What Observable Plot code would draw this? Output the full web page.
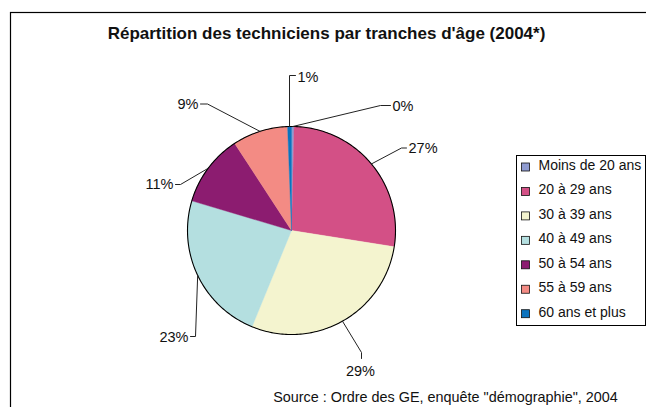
<!DOCTYPE html>
<html><head><meta charset="utf-8">
<script src="https://cdn.jsdelivr.net/npm/d3@7"></script>
<script src="https://cdn.jsdelivr.net/npm/@observablehq/plot@0.6"></script>
<style>body{margin:0;background:#fff} svg{display:block}</style>
</head><body><div id="chart"></div>
<script>
// ---- data ----
const categories = ["Moins de 20 ans","20 à 29 ans","30 à 39 ans","40 à 49 ans","50 à 54 ans","55 à 59 ans","60 ans et plus"];
const shares = [0.4, 27.1, 28.7, 23.4, 11.2, 8.6, 0.6];
const colors = ["#8f9bd0","#d35086","#f4f4cf","#b4dfe0","#8c1c70","#f38b84","#0b73be"];
const title = "Répartition des techniciens par tranches d'âge (2004*)";
const source = "Source : Ordre des GE, enquête \"démographie\", 2004";

// ---- layout (pixels) ----
const W = 646, H = 407, CX = 291, CY = 230, R = 104;
const ux = px => (px - CX) / R, uy = py => (CY - py) / R;
// label placement per slice: elbow, tick end, text anchor point, text alignment
const labelLayout = [
  {elbow:[380,105],   end:[390,105],   text:[392,106],   anchor:"start"},
  {elbow:[401,147.5], end:[406,147.5], text:[408,148],   anchor:"start"},
  {elbow:[361,352],   end:[361,358],   text:[360,371],   anchor:"middle"},
  {elbow:[195,336],   end:[190,336],   text:[188,337],   anchor:"end"},
  {elbow:[180,184],   end:[175,184],   text:[173,184],   anchor:"end"},
  {elbow:[207,103.5], end:[200,103.5], text:[198,104],   anchor:"end"},
  {elbow:[289,75],    end:[295,75],    text:[297,77],    anchor:"start"}
];

const total = d3.sum(shares);
const arcs = d3.pie().sort(null).value(d => d.value)(categories.map((c, i) => ({cat: c, value: shares[i]})));

// slice polygons in pie units (radius 1)
const slicePts = arcs.flatMap(a => {
  const n = Math.max(2, Math.ceil((a.endAngle - a.startAngle) / 0.01));
  const pts = [{cat: a.data.cat, x: 0, y: 0}];
  for (let k = 0; k <= n; k++) {
    const t = a.startAngle + (a.endAngle - a.startAngle) * k / n;
    pts.push({cat: a.data.cat, x: Math.sin(t), y: Math.cos(t)});
  }
  pts.push({cat: a.data.cat, x: 0, y: 0});
  return pts;
});
const circlePts = d3.range(0, 361).map(d => ({x: Math.sin(d * Math.PI / 180), y: Math.cos(d * Math.PI / 180)}));

// leader lines
const leaderPts = arcs.flatMap((a, i) => {
  const m = (a.startAngle + a.endAngle) / 2, L = labelLayout[i];
  return [
    {cat: a.data.cat, x: Math.sin(m), y: Math.cos(m)},
    {cat: a.data.cat, x: ux(L.elbow[0]), y: uy(L.elbow[1])},
    {cat: a.data.cat, x: ux(L.end[0]), y: uy(L.end[1])}
  ];
});
const labels = arcs.map((a, i) => ({
  text: d3.format(".0%")(a.data.value / total),
  x: ux(labelLayout[i].text[0]), y: uy(labelLayout[i].text[1]), anchor: labelLayout[i].anchor
}));

const legendRows = categories.map((c, i) => {
  const yc = 165 + 24.45 * i;
  return {cat: c, tx: ux(538), ty: uy(yc), x1: ux(521.5), x2: ux(529.5), y1: uy(yc - 2), y2: uy(yc + 6)};
});

const txt = "#111";
const chart = Plot.plot({
  width: W, height: H, margin: 0,
  x: {domain: [ux(0), ux(W)], range: [0, W], axis: null},
  y: {domain: [uy(H), uy(0)], range: [H, 0], axis: null},
  color: {domain: categories, range: colors},
  style: {fontFamily: "'Liberation Sans', Arial, sans-serif", background: "#fff"},
  marks: [
    Plot.frame({stroke: "#000", strokeWidth: 1.2, insetLeft: 10, insetTop: 12, insetRight: -4, insetBottom: -4}),
    Plot.line(slicePts, {x: "x", y: "y", z: "cat", fill: "cat", stroke: "cat", strokeWidth: 0.4, curve: "linear"}),
    Plot.line(circlePts, {x: "x", y: "y", stroke: "#000", strokeWidth: 1.1, curve: "linear"}),
    Plot.line(leaderPts, {x: "x", y: "y", z: "cat", stroke: "#222", strokeWidth: 1}),
    ...["start", "middle", "end"].map(an =>
      Plot.text(labels.filter(d => d.anchor === an), {x: "x", y: "y", text: "text", textAnchor: an, fontSize: 14.5, fill: txt})),
    Plot.rect([0], {x1: ux(516.5), x2: ux(645.5), y1: uy(155.5), y2: uy(325.5), fill: "none", stroke: "#000", strokeWidth: 1}),
    Plot.rect(legendRows, {x1: "x1", x2: "x2", y1: "y1", y2: "y2", fill: "cat", stroke: "#111", strokeWidth: 0.8}),
    Plot.text(legendRows, {x: "tx", y: "ty", text: "cat", textAnchor: "start", fontSize: 14, fill: txt}),
    Plot.text([title], {x: () => ux(326), y: () => uy(33), text: d => d, fontSize: 17, fontWeight: "bold", fill: txt}),
    Plot.text([source], {x: () => ux(445), y: () => uy(397), text: d => d, fontSize: 14.4, fill: txt})
  ]
});
document.getElementById("chart").append(chart);
</script>
</body></html>
